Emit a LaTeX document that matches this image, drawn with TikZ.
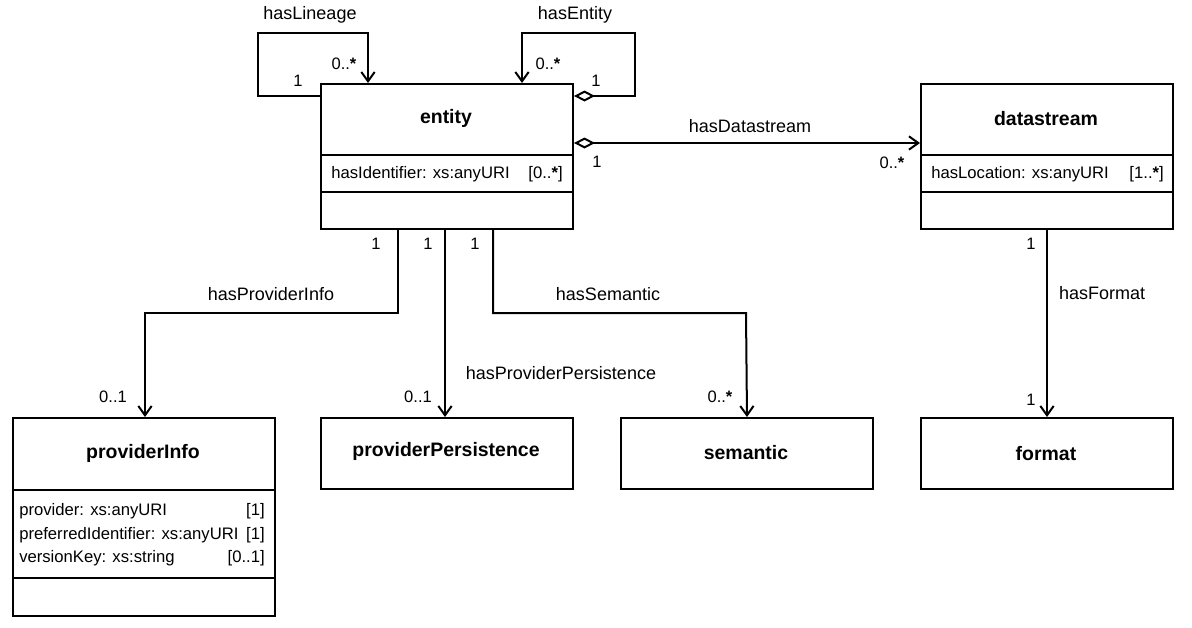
\documentclass[tikz,border=0pt]{standalone}
\usepackage{fontspec}
\setmainfont{Liberation Sans}
\usetikzlibrary{arrows.meta}
\begin{document}
\begin{tikzpicture}[x=0.75pt,y=-0.75pt,
 box/.style={draw, line width=1.5pt, inner sep=0pt, anchor=north west},
 title/.style={font=\fontsize{14.6}{16}\selectfont\bfseries, inner sep=0pt},
 attr/.style={font=\fontsize{12.5}{14}\selectfont, inner sep=0pt},
 lbl/.style={font=\fontsize{13.5}{15}\selectfont, inner sep=0pt},
 mult/.style={font=\fontsize{12.4}{14}\selectfont, inner sep=0pt},
 conn/.style={line width=1.5pt},
 nav/.style={conn, -{Straight Barb[length=7pt,width=10pt]}},
 agg/.style={conn, {Diamond[fill=white,length=15.75pt,width=8.25pt]}-{Straight Barb[length=7pt,width=10pt]}},
]
\fill[white] (0,0) rectangle (1192,628);
\useasboundingbox (0,0) rectangle (1192,628);

% boxes
\node[box, minimum width=189pt, minimum height=108.75pt] (entity) at (320,83) {};
\node[box, minimum width=189pt, minimum height=108.75pt] (datastream) at (920,83) {};
\node[box, minimum width=196.5pt, minimum height=148.5pt] (providerInfo) at (12,417) {};
\node[box, minimum width=189pt, minimum height=53.25pt] (providerPersistence) at (320,417) {};
\node[box, minimum width=189pt, minimum height=53.25pt] (semantic) at (620,417) {};
\node[box, minimum width=189pt, minimum height=53.25pt] (format) at (920,417) {};

% dividers
\draw[conn] (entity.west |- 0,155) -- (entity.east |- 0,155);
\draw[conn] (entity.west |- 0,192) -- (entity.east |- 0,192);
\draw[conn] (datastream.west |- 0,155) -- (datastream.east |- 0,155);
\draw[conn] (datastream.west |- 0,192) -- (datastream.east |- 0,192);
\draw[conn] (providerInfo.west |- 0,490) -- (providerInfo.east |- 0,490);
\draw[conn] (providerInfo.west |- 0,578) -- (providerInfo.east |- 0,578);

% titles
\node[title] (entityT) at (446,118) {entity};
\node[title] (datastreamT) at (1046,119) {datastream};
\node[title] (providerInfoT) at (143,453) {providerInfo};
\node[title] (providerPersistenceT) at (446,451) {providerPersistence};
\node[title] (semanticT) at (746,453) {semantic};
\node[title] (formatT) at (1046,454) {format};

% attributes
\node[attr, anchor=west] (entityA) at (331,174) {hasIdentifier: xs:anyURI};
\node[attr, anchor=east] (entityAM) at (563,174) {[0..{\bfseries *}]};
\node[attr, anchor=west] (datastreamA) at (931,174) {hasLocation: xs:anyURI};
\node[attr, anchor=east] (datastreamAM) at (1164,174) {[1..{\bfseries *}]};
\node[attr, anchor=west] (piA1) at (19,511) {provider: xs:anyURI};
\node[attr, anchor=east] (piM1) at (265,511) {[1]};
\node[attr, anchor=west] (piA2) at (19,535) {preferredIdentifier: xs:anyURI};
\node[attr, anchor=east] (piM2) at (265,535) {[1]};
\node[attr, anchor=west] (piA3) at (19,558) {versionKey: xs:string};
\node[attr, anchor=east] (piM3) at (265,558) {[0..1]};

% connectors
\draw[nav] (entity.west |- 0,96) -- (258,96) -- (258,33) -- (368,33) -- (entity.north -| 368,0);
\draw[agg] (entity.east |- 0,96) -- (635,96) -- (635,33) -- (522,33) -- (entity.north -| 522,0);
\draw[agg] (entity.east |- 0,143) -- (datastream.west |- 0,143);
\draw[nav] (entity.south -| 398,0) -- (398,313) -- (145,313) -- (providerInfo.north -| 145,0);
\draw[nav] (entity.south -| 445,0) -- (providerPersistence.north -| 445,0);
\draw[nav] (entity.south -| 493,0) -- (493,313) -- (746,313) -- (semantic.north);
\draw[nav] (datastream.south) -- (format.north);

% association labels
\node[lbl] (lLineage) at (310,15) {hasLineage};
\node[lbl] (lEntity) at (575,15) {hasEntity};
\node[lbl] (lDatastream) at (750,126) {hasDatastream};
\node[lbl] (lProviderInfo) at (271,294) {hasProviderInfo};
\node[lbl] (lSemantic) at (608,294) {hasSemantic};
\node[lbl] (lPP) at (561,373) {hasProviderPersistence};
\node[lbl] (lFormat) at (1102,293) {hasFormat};

% multiplicities
\node[mult] (m1) at (344,64) {0..{\bfseries *}};
\node[mult] (m2) at (298,81) {1};
\node[mult] (m3) at (548,64) {0..{\bfseries *}};
\node[mult] (m4) at (596,81) {1};
\node[mult] (m5) at (597,162) {1};
\node[mult] (m6) at (892,163) {0..{\bfseries *}};
\node[mult] (m7) at (376,244) {1};
\node[mult] (m8) at (428,244) {1};
\node[mult] (m9) at (475,244) {1};
\node[mult] (m10) at (113,397) {0..1};
\node[mult] (m11) at (418,397) {0..1};
\node[mult] (m12) at (720,397) {0..{\bfseries *}};
\node[mult] (m13) at (1031,244) {1};
\node[mult] (m14) at (1031,400) {1};
\end{tikzpicture}
\end{document}
